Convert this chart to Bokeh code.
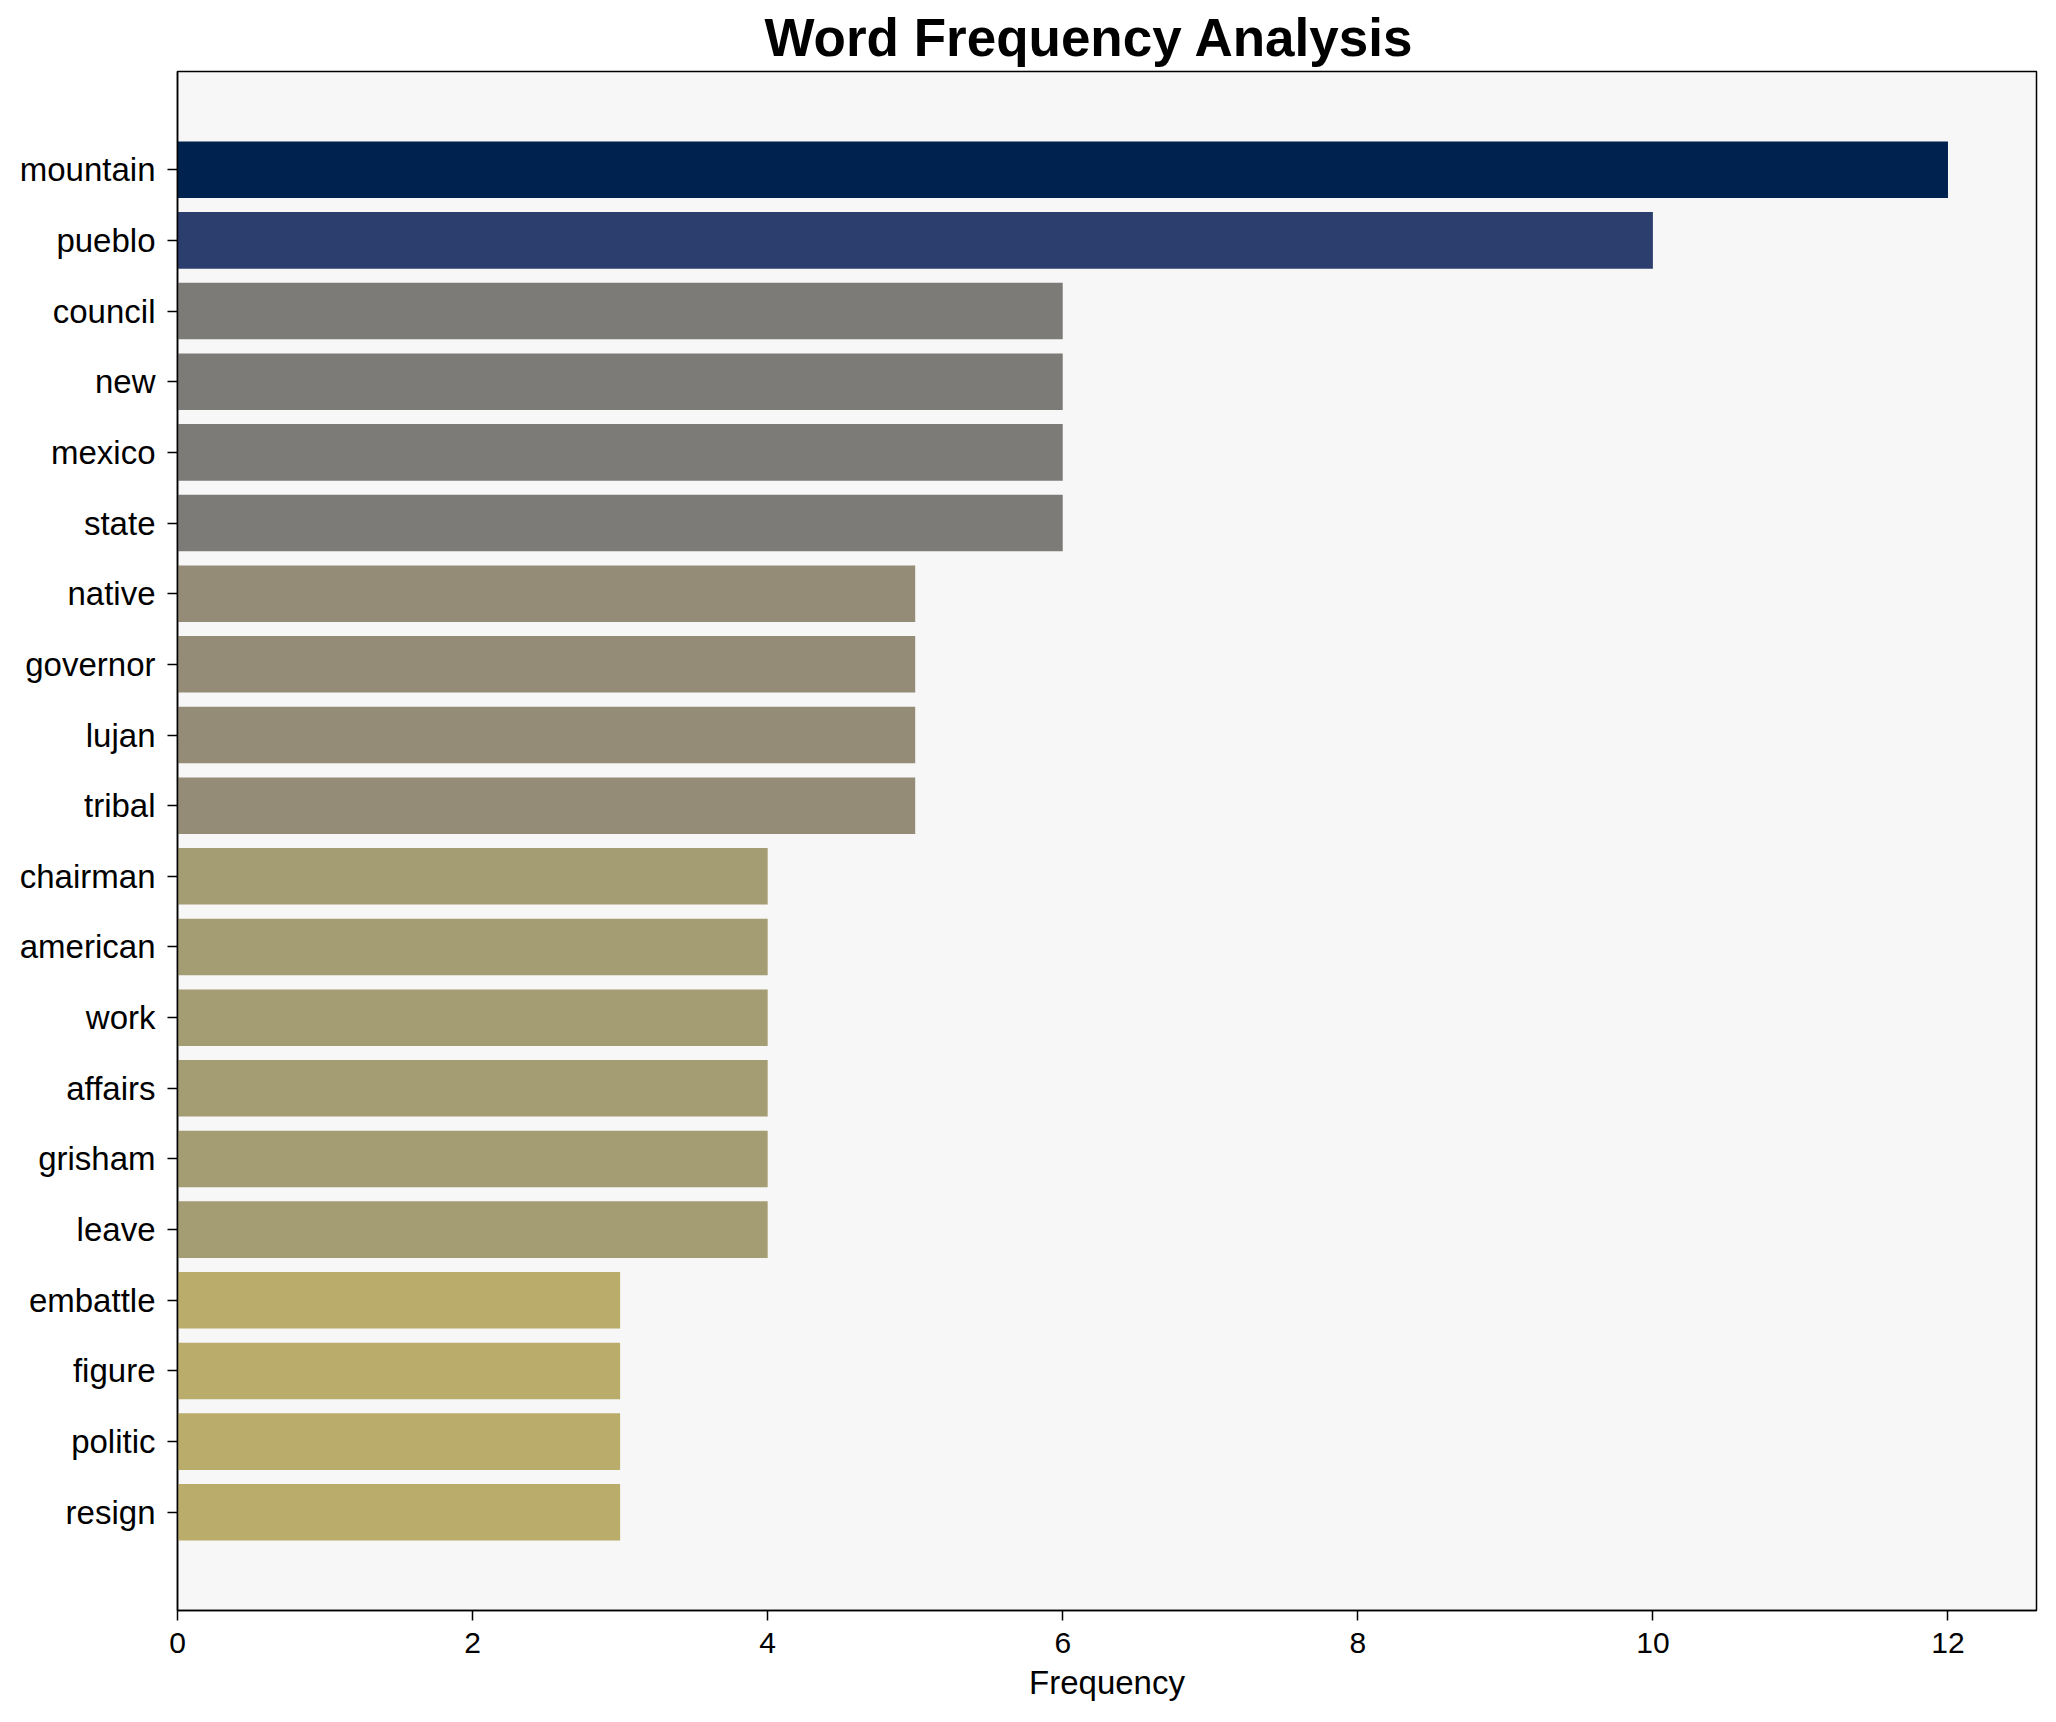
from bokeh.plotting import figure
from bokeh.models import Range1d, FixedTicker, ColumnDataSource
from bokeh.embed import file_html
from bokeh.resources import INLINE

words = ["mountain", "pueblo", "council", "new", "mexico", "state", "native",
         "governor", "lujan", "tribal", "chairman", "american", "work", "affairs",
         "grisham", "leave", "embattle", "figure", "politic", "resign"]
freqs = [12, 10, 6, 6, 6, 6, 5, 5, 5, 5, 4, 4, 4, 4, 4, 4, 3, 3, 3, 3]
color_by_freq = {12: "#00224f", 10: "#2c3e6d", 6: "#7c7b78", 5: "#948c77",
                 4: "#a49c72", 3: "#baad6c"}
x_ticks = [0, 2, 4, 6, 8, 10, 12]

FONT = "Liberation Sans"

idx = list(range(len(words)))
src = ColumnDataSource(dict(y=idx, freq=freqs, word=words,
                            color=[color_by_freq[f] for f in freqs]))

W, H = 2040, 1706
p = figure(width=W, height=H, output_backend="svg", toolbar_location=None,
           x_range=Range1d(0, 12.6), y_range=Range1d(20.39, -1.39))
p.min_border_left = 177
p.min_border_right = 4
p.min_border_top = 71
p.min_border_bottom = 96

p.hbar(y="y", right="freq", left=0, height=0.8, fill_color="color",
       line_color=None, source=src)

p.background_fill_color = "#f7f7f7"
p.border_fill_color = "white"
p.outline_line_color = "black"
p.outline_line_width = 1.5
p.xgrid.visible = False
p.ygrid.visible = False

p.title.text = "Word Frequency Analysis"
p.title.align = "left"
p.title.offset = 587
p.title.text_font = FONT
p.title.text_font_style = "bold"
p.title.text_font_size = "53px"
p.title.text_color = "black"

xa = p.xaxis[0]
xa.ticker = FixedTicker(ticks=x_ticks)
xa.axis_label = "Frequency"
xa.axis_label_text_font = FONT
xa.axis_label_text_font_style = "normal"
xa.axis_label_text_font_size = "33px"
xa.axis_label_text_color = "black"
xa.axis_label_standoff = 8
xa.major_label_text_font = FONT
xa.major_label_text_font_size = "30px"
xa.major_label_text_color = "black"
xa.major_label_standoff = 12
xa.minor_tick_line_color = None
xa.major_tick_in = 0
xa.major_tick_out = 10
xa.major_tick_line_width = 1.5
xa.major_tick_line_color = "black"
xa.axis_line_width = 1.5
xa.axis_line_color = "black"

ya = p.yaxis[0]
ya.ticker = FixedTicker(ticks=idx)
ya.major_label_overrides = {i: w for i, w in enumerate(words)}
ya.major_label_text_font = FONT
ya.major_label_text_font_size = "33px"
ya.major_label_text_color = "black"
ya.major_label_standoff = 12
ya.minor_tick_line_color = None
ya.major_tick_in = 0
ya.major_tick_out = 10
ya.major_tick_line_width = 1.5
ya.major_tick_line_color = "black"
ya.axis_line_width = 1.5
ya.axis_line_color = "black"

open("out.html", "w").write(file_html(p, INLINE))
